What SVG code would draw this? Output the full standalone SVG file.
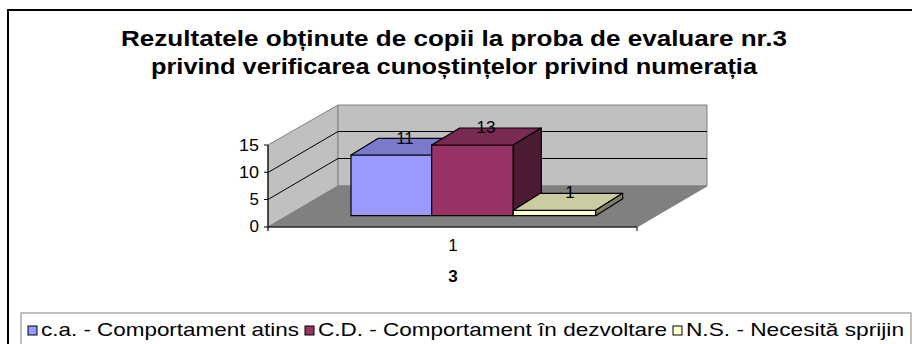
<svg xmlns="http://www.w3.org/2000/svg" width="912" height="344" viewBox="0 0 912 344">
<style>
text{font-family:"Liberation Sans",Arial,sans-serif;fill:#000}
.title{font-size:22px;font-weight:bold;text-anchor:middle}
.ax{font-size:17px;text-anchor:end}
.lbl{font-size:17px;text-anchor:middle}
.leg{font-size:19px}
.wall{fill:#C0C0C0;stroke:#808080;stroke-width:1}
.grid{stroke:#000;stroke-width:1;fill:none}
.edge{stroke:#000;stroke-width:1.2;stroke-linejoin:round}
</style>
<rect x="0" y="0" width="912" height="344" fill="#fff"/>
<rect x="8" y="10" width="920" height="350" fill="#fff" stroke="#000" stroke-width="2"/>
<g id="title">
<text class="title" x="454" y="46" textLength="666" lengthAdjust="spacingAndGlyphs">Rezultatele obținute de copii la proba de evaluare nr.3</text>
<text class="title" x="454" y="74" textLength="606" lengthAdjust="spacingAndGlyphs">privind verificarea cunoștințelor privind numerația</text>
</g>
<g id="plot">
<polygon class="wall" points="268,227 268,145 338,105 338,186"/>
<polygon class="wall" points="338,105 707,105 707,186 338,186"/>
<polygon points="268,227 338,186 707,186 637,227" fill="#808080" stroke="#808080"/>
<polyline class="grid" points="268,199.5 338,158.5 707,158.5"/>
<polyline class="grid" points="268,172.5 338,131.5 707,131.5"/>
</g>
<g id="axes">
<line x1="268" y1="145" x2="268" y2="231" stroke="#000" stroke-width="1.2"/>
<line x1="264" y1="227" x2="637" y2="227" stroke="#000" stroke-width="1.2"/>
<line x1="264" y1="145" x2="268" y2="145" stroke="#000"/>
<line x1="264" y1="172.2" x2="268" y2="172.2" stroke="#000"/>
<line x1="264" y1="199.5" x2="268" y2="199.5" stroke="#000"/>
<line x1="637" y1="227" x2="637" y2="231" stroke="#000"/>
<text class="ax" x="259" y="151" textLength="20" lengthAdjust="spacingAndGlyphs">15</text>
<text class="ax" x="259" y="178" textLength="20" lengthAdjust="spacingAndGlyphs">10</text>
<text class="ax" x="259" y="205">5</text>
<text class="ax" x="259" y="232">0</text>
<text class="lbl" x="453" y="251">1</text>
<text class="lbl" x="453" y="282" font-weight="bold">3</text>
</g>
<g id="bar-ca">
<rect class="edge" x="351" y="155" width="80.7" height="60.7" fill="#9999FF"/>
<polygon class="edge" points="351,155 431.7,155 459,138.3 378.3,138.3" fill="#7A7ACC"/>
<text class="lbl" x="405" y="144">11</text>
</g>
<g id="bar-cd">
<rect class="edge" x="431.7" y="145" width="81.6" height="70.7" fill="#993366"/>
<polygon class="edge" points="431.7,145 513.3,145 541.3,128 459.7,128" fill="#7A2952"/>
<polygon class="edge" points="513.3,145 541.3,128 541.3,198.7 513.3,215.7" fill="#4D1A33"/>
<text class="lbl" x="486" y="133">13</text>
</g>
<g id="bar-ns">
<rect class="edge" x="513.3" y="210.3" width="82.4" height="5.4" fill="#FFFFCC"/>
<polygon class="edge" points="513.3,210.3 595.7,210.3 622.7,193.3 540.3,193.3" fill="#CCCCA3"/>
<polygon class="edge" points="595.7,210.3 622.7,193.3 622.7,198.7 595.7,215.7" fill="#808066"/>
<text class="lbl" x="570" y="198">1</text>
</g>
<g id="legend">
<rect x="21" y="313" width="890" height="40" fill="#fff" stroke="#808080" stroke-width="1"/>
<rect x="28" y="326" width="9" height="9" fill="#9999FF" stroke="#000"/>
<text class="leg" x="41" y="336" textLength="258" lengthAdjust="spacingAndGlyphs">c.a. - Comportament atins</text>
<rect x="305" y="326" width="9" height="9" fill="#993366" stroke="#000"/>
<text class="leg" x="318" y="336" textLength="349" lengthAdjust="spacingAndGlyphs">C.D. - Comportament în dezvoltare</text>
<rect x="673" y="326" width="9" height="9" fill="#FFFFCC" stroke="#000"/>
<text class="leg" x="686" y="336" textLength="218" lengthAdjust="spacingAndGlyphs">N.S. - Necesită sprijin</text>
</g>
</svg>
